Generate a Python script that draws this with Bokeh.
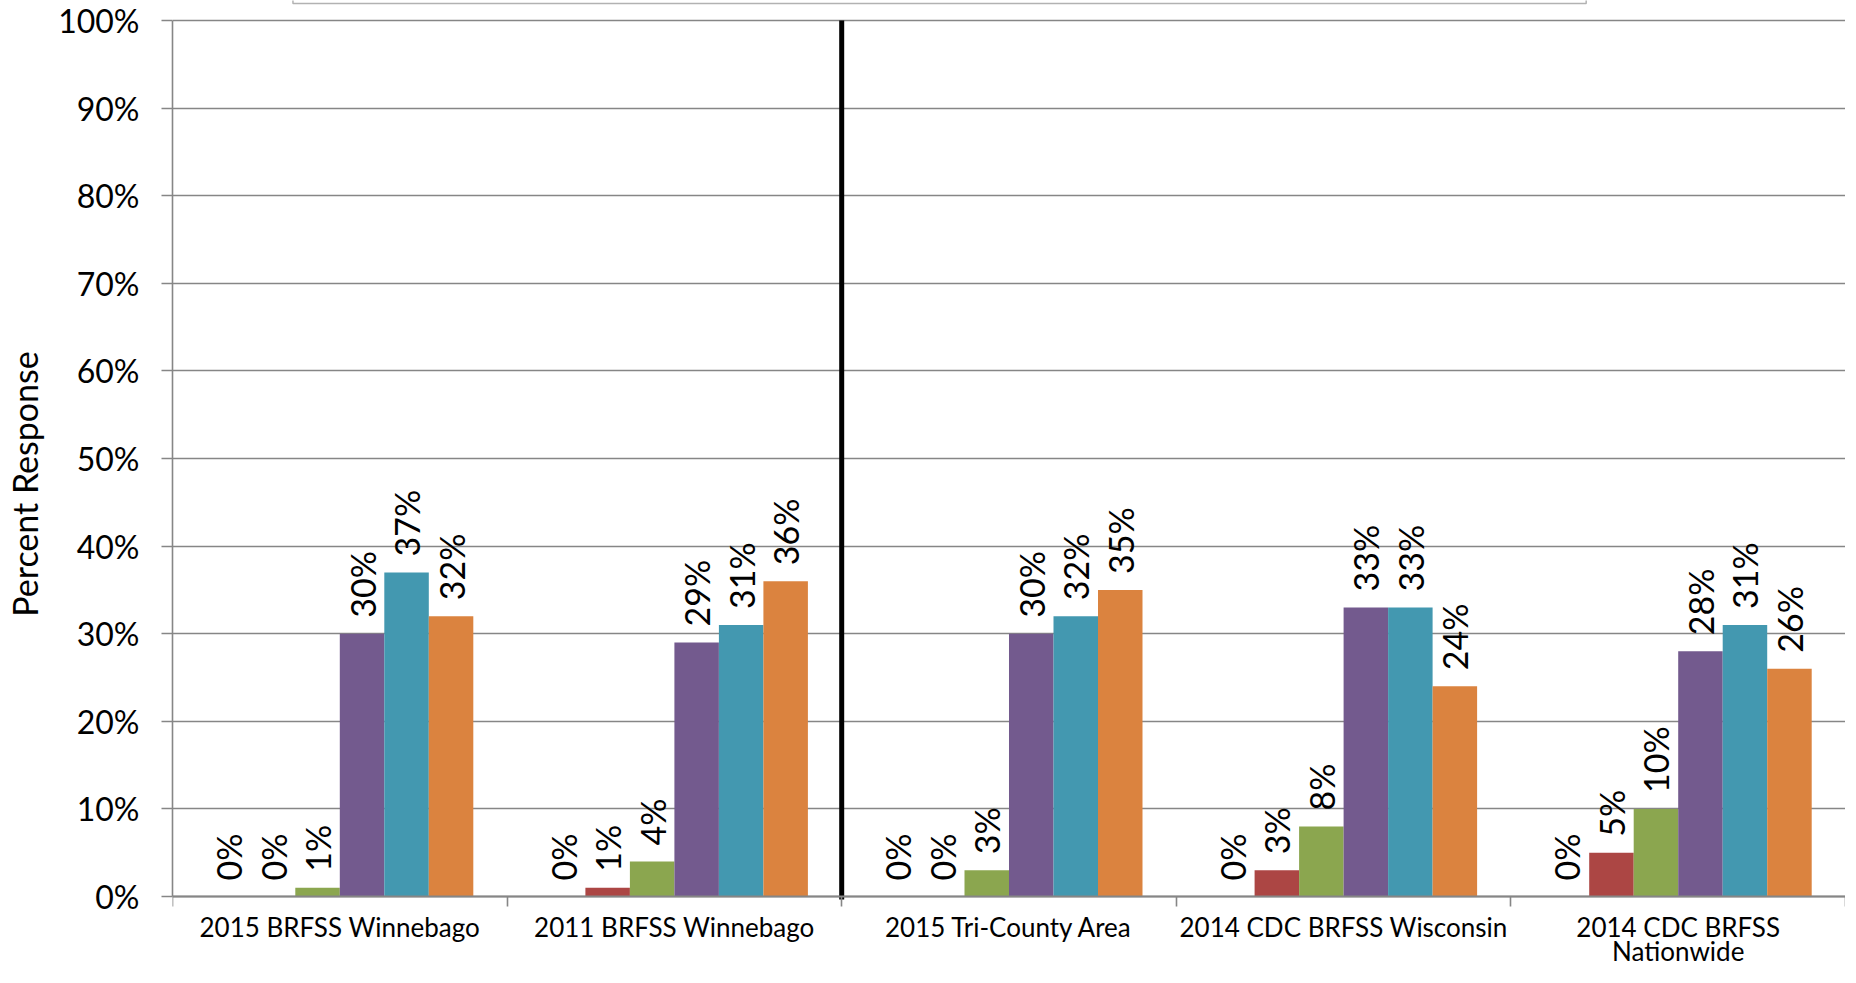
import math
from bokeh.plotting import figure
from bokeh.models import ColumnDataSource, FixedTicker, BoxAnnotation, Range1d
from bokeh.core.properties import value
from bokeh.embed import file_html
from bokeh.resources import INLINE

# ---------------- data ----------------
categories = [
    "2015 BRFSS Winnebago",
    "2011 BRFSS Winnebago",
    "2015 Tri-County Area",
    "2014 CDC BRFSS Wisconsin",
    "2014 CDC BRFSS\nNationwide",
]
series_names = ["Series 1", "Series 2", "Series 3", "Series 4", "Series 5", "Series 6"]
series_1 = [0, 0, 0, 0, 0]
series_2 = [0, 1, 0, 3, 5]
series_3 = [1, 4, 3, 8, 10]
series_4 = [30, 29, 30, 33, 28]
series_5 = [37, 31, 32, 33, 31]
series_6 = [32, 36, 35, 24, 26]
series_colors = ["#4F81BD", "#AC4644", "#8BA64F", "#735A8E", "#4398B0", "#DB833F"]
y_ticks = [0, 10, 20, 30, 40, 50, 60, 70, 80, 90, 100]
y_tick_labels = [f"{t}%" for t in y_ticks]
separator_after = 2  # local (Winnebago) groups before the divider

all_series = [series_1, series_2, series_3, series_4, series_5, series_6]

FONT = "Lato"
GRAY = "#868686"

n_cat = len(categories)
n_ser = len(all_series)
bar_w = 0.133
group_span = bar_w * n_ser

# vertical layout (pixels): plot area 876 px tall, 20 px above it, rest below
FIG_H = 967
TOP_PAD = 20
AREA_H = 876
px_per_unit = AREA_H / (y_ticks[-1] - y_ticks[0])
y_lo = y_ticks[0] - (FIG_H - TOP_PAD - AREA_H) / px_per_unit
y_hi = y_ticks[-1] + TOP_PAD / px_per_unit

p = figure(
    width=1845, height=FIG_H, title=None,
    x_range=Range1d(0, n_cat), y_range=Range1d(y_lo, y_hi),
    output_backend="svg", toolbar_location=None,
    min_border_left=172, min_border_right=0,
    min_border_top=0, min_border_bottom=0,
)
p.outline_line_color = None
p.background_fill_color = "white"
p.border_fill_color = "white"

# grid
p.xgrid.visible = False
p.ygrid.ticker = FixedTicker(ticks=y_ticks)
p.ygrid.grid_line_color = GRAY
p.ygrid.grid_line_width = 1.6

# bars + value labels
for j, (vals, col) in enumerate(zip(all_series, series_colors)):
    xs = [i + 0.5 - group_span / 2 + bar_w * (j + 0.5) for i in range(n_cat)]
    src = ColumnDataSource(dict(x=xs, top=vals, label=[f"{v}%" for v in vals]))
    p.vbar(x="x", top="top", bottom=0, width=bar_w, source=src,
           fill_color=col, line_color=None)
    p.text(x="x", y="top", text="label", source=src, angle=math.pi / 2,
           text_align="left", text_baseline="middle", y_offset=-16,
           text_font=value(FONT), text_font_size="34px", text_color="black")

# y axis
ya = p.yaxis[0]
ya.ticker = FixedTicker(ticks=y_ticks)
ya.bounds = (y_ticks[0], y_ticks[-1])
ya.major_label_overrides = {t: l for t, l in zip(y_ticks, y_tick_labels)}
ya.axis_line_color = GRAY
ya.axis_line_width = 1.6
ya.major_tick_line_color = GRAY
ya.major_tick_line_width = 1.6
ya.major_tick_out = 11
ya.major_tick_in = 0
ya.minor_tick_line_color = None
ya.major_label_text_font = FONT
ya.major_label_text_font_size = "32px"
ya.major_label_text_color = "black"
ya.major_label_standoff = 22
ya.axis_label = "Percent Response"
ya.axis_label_text_font = FONT
ya.axis_label_text_font_size = "34px"
ya.axis_label_text_font_style = "normal"
ya.axis_label_text_color = "black"
ya.axis_label_standoff = 10

# category axis at 0%: tick marks between groups, names under each group
centers = [i + 0.5 for i in range(n_cat)]
bounds = list(range(n_cat + 1))
xa = p.xaxis[0]
xa.fixed_location = y_ticks[0]
xa.ticker = FixedTicker(ticks=centers, minor_ticks=bounds)
xa.major_label_overrides = {c: name for c, name in zip(centers, categories)}
xa.axis_line_color = GRAY
xa.axis_line_width = 2
xa.major_tick_line_color = None
xa.major_tick_out = 0
xa.major_tick_in = 0
xa.minor_tick_line_color = GRAY
xa.minor_tick_line_width = 1.6
xa.minor_tick_out = 10
xa.minor_tick_in = 0
xa.major_label_text_font = FONT
xa.major_label_text_font_size = "26px"
xa.major_label_text_color = "black"
xa.major_label_text_line_height = 0.75
xa.major_label_standoff = 4

# divider between local and comparison data
p.segment(x0=[separator_after], x1=[separator_after],
          y0=[y_ticks[0] - 3 / px_per_unit], y1=[y_ticks[-1]],
          line_color="black", line_width=5)

# legend frame (cut off at the top of the image)
p.add_layout(BoxAnnotation(left=0.36, right=4.225,
                           bottom=y_ticks[-1] + 17 / px_per_unit, top=y_hi + 20,
                           fill_color=None, line_color="black", line_width=1.5))

open("out.html", "w").write(file_html(p, INLINE))
